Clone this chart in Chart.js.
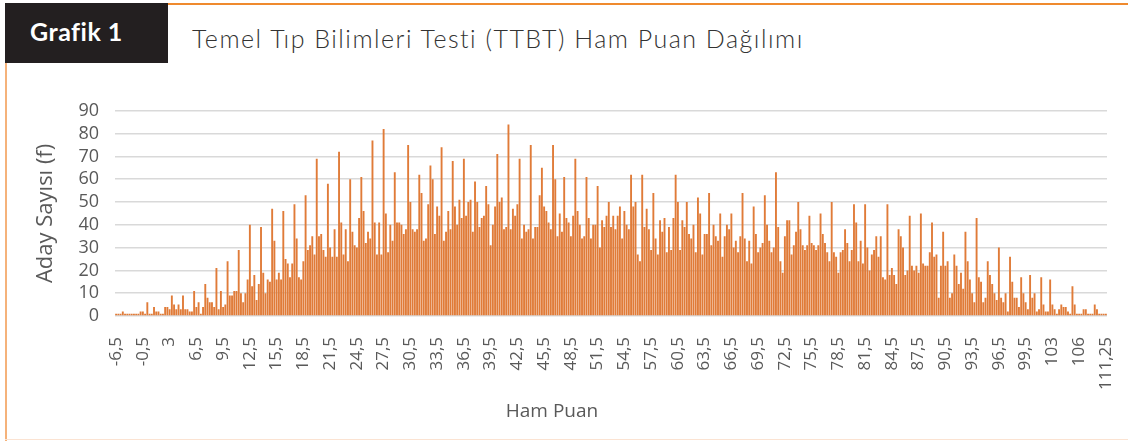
<!DOCTYPE html>
<html>
<head>
<meta charset="utf-8">
<script src="https://cdn.jsdelivr.net/npm/chart.js@4"></script>
<style>
	body { margin: 0; background: #fff; }
	#page { position: relative; width: 1128px; height: 441px; overflow: hidden; background: #fff; }
	#box { position: absolute; left: 5px; top: 3px; width: 163px; height: 60px; background: #231f20; }
	#box span { position: absolute; left: 25px; top: 13px; font: bold 25px "Lato", sans-serif; color: #fff; letter-spacing: 0.5px; }
	#topline { position: absolute; left: 168px; top: 3px; right: 0; height: 2px; background: #ef8a2e; }
	#leftline { position: absolute; left: 5px; top: 63px; width: 2px; bottom: 0; background: #f5b27a; }
	#bottomline { position: absolute; left: 5px; right: 0; top: 439px; height: 1px; background: #fbe3d2; }
	#title { position: absolute; left: 192px; top: 23px; font: 300 25px "Lato", sans-serif; color: #333; white-space: nowrap; letter-spacing: 1.5px; }
	#xtitle { position: absolute; left: 552px; top: 397px; transform: translateX(-50%); font: 19px "Open Sans", sans-serif; color: #595959; }
	#myChartPuan { position: absolute; left: 0; top: 84px; }
</style>
</head>
<body>
<div id="page">
	<div id="topline"></div>
	<div id="leftline"></div>
	<div id="bottomline"></div>
	<div id="box"><span>Grafik 1</span></div>
	<div id="title">Temel Tıp Bilimleri Testi (TTBT) Ham Puan Dağılımı</div>
	<canvas id="myChartPuan" width="1128" height="357"></canvas>
	<div id="xtitle">Ham Puan</div>
</div>
<script>
// etiketler (her 12 çubukta bir)
const tickLabels = [
	"-6,5", "-0,5", "3", "6,5", "9,5", "12,5", "15,5", "18,5", "21,5", "24,5",
	"27,5", "30,5", "33,5", "36,5", "39,5", "42,5", "45,5", "48,5", "51,5", "54,5",
	"57,5", "60,5", "63,5", "66,5", "69,5", "72,5", "75,5", "78,5", "81,5", "84,5",
	"87,5", "90,5", "93,5", "96,5", "99,5", "103", "106", "111,25"
];
const labelStep = 12;

// aday sayilari
const counts = [
	1, 1, 1, 2, 1, 1, 1, 1, 1, 1,
	1, 2, 2, 1, 6, 1, 1, 4, 2, 2,
	1, 1, 4, 4, 3, 9, 5, 3, 5, 3,
	9, 3, 3, 2, 2, 11, 4, 6, 1, 4,
	14, 8, 6, 6, 4, 21, 3, 11, 4, 5,
	24, 9, 9, 11, 11, 29, 10, 6, 10, 16,
	40, 13, 18, 7, 14, 39, 19, 10, 16, 15,
	47, 33, 16, 19, 16, 46, 25, 23, 17, 23,
	49, 34, 17, 16, 24, 53, 29, 31, 35, 27,
	69, 35, 36, 29, 26, 58, 30, 26, 38, 26,
	72, 41, 27, 38, 24, 60, 37, 31, 30, 43,
	61, 46, 32, 37, 34, 77, 41, 27, 41, 27,
	82, 45, 28, 40, 33, 63, 41, 41, 40, 36,
	38, 75, 50, 38, 37, 38, 62, 54, 33, 34,
	49, 66, 60, 36, 48, 44, 74, 33, 37, 46,
	38, 68, 48, 40, 51, 43, 69, 44, 50, 51,
	37, 59, 50, 39, 43, 44, 57, 49, 31, 40,
	48, 71, 50, 52, 38, 39, 84, 38, 47, 44,
	49, 69, 34, 40, 37, 38, 75, 34, 39, 39,
	53, 65, 48, 46, 41, 38, 75, 60, 35, 45,
	37, 61, 43, 41, 35, 44, 69, 46, 40, 34,
	35, 61, 43, 34, 40, 40, 57, 30, 42, 39,
	44, 50, 39, 44, 38, 44, 48, 34, 46, 40,
	38, 62, 48, 50, 27, 24, 62, 39, 47, 38,
	29, 54, 34, 27, 42, 37, 43, 28, 39, 29,
	43, 62, 50, 29, 42, 39, 50, 36, 34, 40,
	28, 52, 45, 27, 36, 36, 54, 31, 40, 35,
	33, 45, 26, 35, 40, 38, 45, 30, 33, 28,
	35, 54, 34, 24, 33, 23, 48, 36, 28, 30,
	32, 53, 40, 33, 28, 30, 63, 39, 24, 19,
	35, 42, 42, 27, 31, 37, 50, 38, 31, 29,
	31, 44, 32, 31, 29, 31, 45, 36, 32, 28,
	24, 50, 28, 26, 19, 28, 29, 38, 32, 24,
	29, 49, 41, 24, 33, 23, 49, 30, 20, 27,
	29, 35, 26, 35, 17, 16, 49, 18, 21, 18,
	14, 38, 35, 30, 18, 20, 44, 22, 20, 22,
	19, 45, 23, 22, 22, 28, 41, 26, 27, 8,
	22, 37, 22, 24, 8, 10, 27, 22, 14, 19,
	12, 37, 24, 16, 10, 6, 43, 17, 15, 6,
	8, 24, 18, 14, 10, 7, 30, 8, 6, 10,
	2, 26, 15, 8, 8, 4, 17, 10, 6, 3,
	18, 8, 10, 2, 3, 17, 5, 2, 2, 16,
	5, 3, 1, 3, 5, 4, 4, 2, 1, 13,
	5, 1, 1, 1, 3, 3, 1, 1, 1, 5,
	3, 1, 1, 1, 1
];

const yMax = 90;
const yStep = 10;

const labels = counts.map((c, i) => (i % labelStep === 0 ? tickLabels[i / labelStep] : ""));

const ctx = document.getElementById("myChartPuan");

new Chart(ctx, {
	type: "bar",
	data: {
		labels: labels,
		datasets: [
			{
				label: "Aday Sayısı",
				data: counts,
				backgroundColor: "#e07b38",
				barPercentage: 0.85,
				categoryPercentage: 1.0
			}
		]
	},
	options: {
		responsive: false,
		animation: false,
		devicePixelRatio: 1,
		layout: {
			padding: { top: 10, right: 21, bottom: 0, left: 33 }
		},
		plugins: {
			legend: { display: false },
			tooltip: { enabled: false }
		},
		scales: {
			x: {
				grid: { display: false },
				border: { display: false },
				ticks: {
					autoSkip: false,
					minRotation: 90,
					maxRotation: 90,
					padding: 13,
					color: "#595959",
					font: { family: "Open Sans", size: 17 },
					callback: function (value) {
						const l = this.getLabelForValue(value);
						return l === "" ? null : l;
					}
				},
				afterFit: (scale) => {
					scale.height = 125;
					scale.paddingLeft = 0;
					scale.paddingRight = 0;
				}
			},
			y: {
				min: 0,
				max: yMax,
				border: { display: false },
				grid: { color: "#d9d9d9", lineWidth: 1.5, drawTicks: false },
				ticks: {
					stepSize: yStep,
					autoSkip: false,
					padding: 16,
					color: "#595959",
					font: { family: "Open Sans", size: 18 }
				},
				title: {
					display: true,
					text: "Aday Sayısı (f)",
					color: "#595959",
					font: { family: "Open Sans", size: 22 },
					padding: { top: 0, bottom: 0 }
				},
				afterFit: (scale) => { scale.width = 82; }
			}
		}
	}
});
</script>
</body>
</html>
